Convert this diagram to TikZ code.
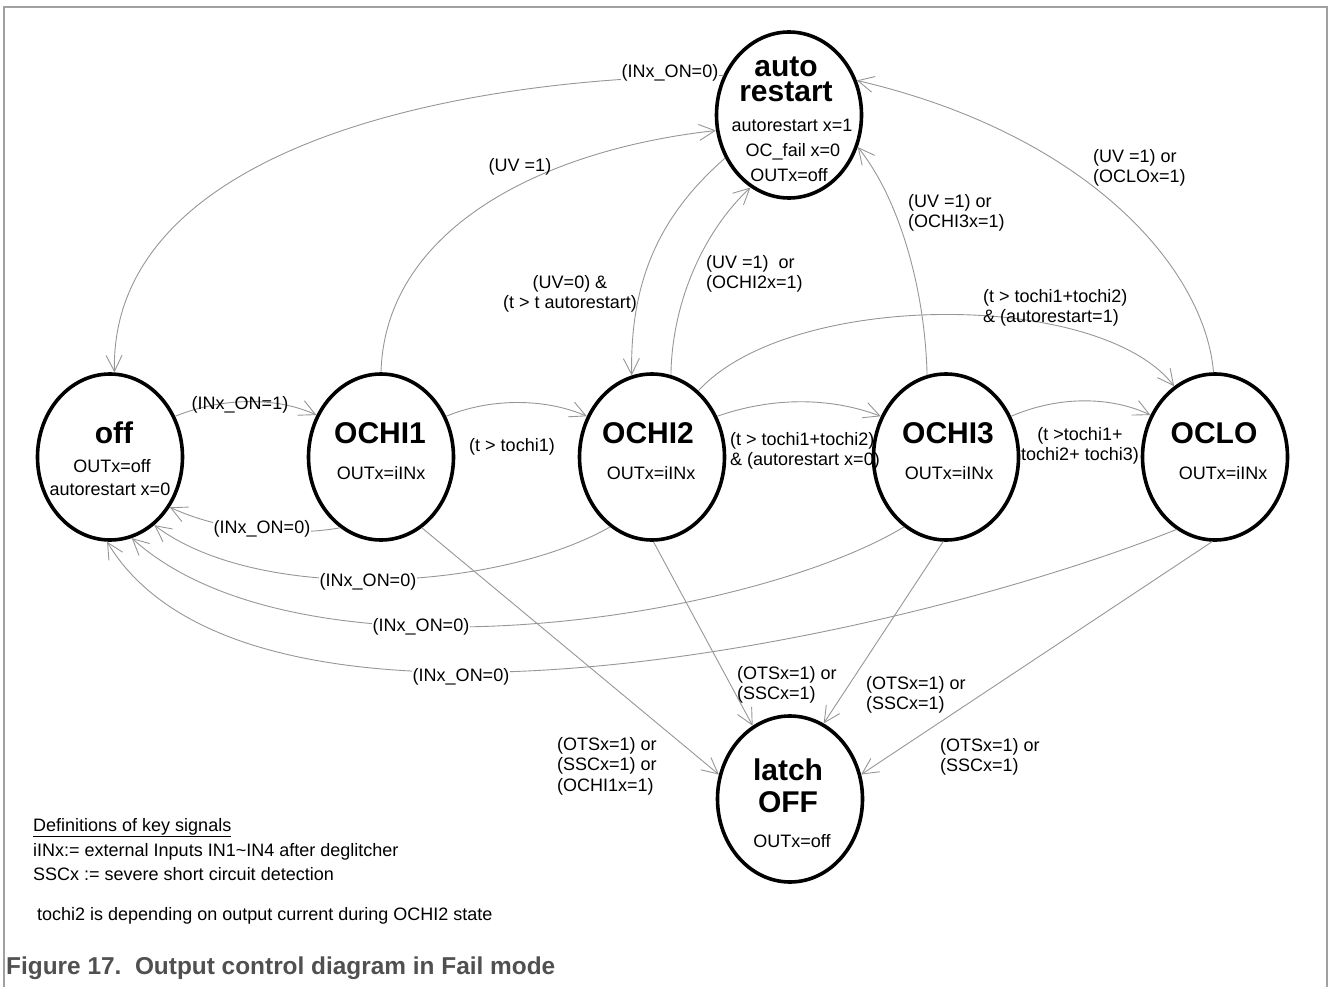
\documentclass[tikz,border=0pt]{standalone}
\usepackage{fontspec}
\setmainfont{Liberation Sans}
\usetikzlibrary{shapes.geometric,arrows.meta}
\definecolor{connc}{RGB}{150,150,150}
\definecolor{framec}{RGB}{160,160,160}
\definecolor{capc}{RGB}{80,80,80}
\begin{document}
\begin{tikzpicture}[x=1pt,y=-1pt,
  state/.style={ellipse,draw=black,line width=3.6pt,minimum width=145pt,minimum height=166pt,inner sep=0pt},
  ttl/.style={font=\fontsize{30}{30}\selectfont\bfseries,inner sep=0pt,anchor=base},
  sub/.style={font=\fontsize{18}{20.5}\selectfont,inner sep=0pt,anchor=base},
  lbl/.style={font=\fontsize{18}{20.5}\selectfont,inner sep=0pt,align=left},
  lblc/.style={font=\fontsize{18}{20.5}\selectfont,inner sep=0pt,align=center},
  onl/.style={fill=white,inner sep=0.5pt},
  arr/.style={draw=connc,line width=0.9pt,-{Straight Barb[length=16pt,width=16pt]}}]

\useasboundingbox (0,0) rectangle (1330,987);
\draw[framec,line width=1.5pt] (4,987) -- (4,7) -- (1327,7) -- (1327,987);

% states
\node[state] (auto) at (789,115) {};
\node[state] (off) at (110,457) {};
\node[state] (ochi1) at (381,457) {};
\node[state] (ochi2) at (652,457) {};
\node[state] (ochi3) at (946,457) {};
\node[state] (oclo) at (1215,457) {};
\node[state] (latch) at (790,799) {};

% state texts
\node[inner sep=0pt,align=center,font=\fontsize{30}{25}\selectfont\bfseries] (autoT) at (786,79) {auto\\restart};
\node[sub] (autoS1) at (792,132) {autorestart x=1};
\node[sub] (autoS2) at (793,157) {OC\_fail x=0};
\node[sub] (autoS3) at (789,182) {OUTx=off};
\node[ttl] (offT) at (114,443) {off};
\node[sub] (offS1) at (112,472) {OUTx=off};
\node[sub] (offS2) at (110,495) {autorestart x=0};
\node[ttl] (ochi1T) at (380,443) {OCHI1};
\node[sub] (ochi1S) at (381,479) {OUTx=iINx};
\node[ttl] (ochi2T) at (648,443) {OCHI2};
\node[sub] (ochi2S) at (651,479) {OUTx=iINx};
\node[ttl] (ochi3T) at (948,443) {OCHI3};
\node[sub] (ochi3S) at (949,479) {OUTx=iINx};
\node[ttl] (ocloT) at (1214,443) {OCLO};
\node[sub] (ocloS) at (1223,479) {OUTx=iINx};
\node[inner sep=0pt,align=center,font=\fontsize{30}{32}\selectfont\bfseries] (latchT) at (788,786) {latch\\OFF};
\node[sub] (latchS) at (792,847) {OUTx=off};

% connectors
\draw[arr] (auto.149) .. controls (420,78) and (110,160) .. (off.87);
\draw[arr] (ochi1.90) .. controls (385,230) and (540,150) .. (auto.192);
\draw[arr] (auto.214) .. controls (660,215) and (630,280) .. (ochi2.104);
\draw[arr] (ochi2.77) .. controls (672,300) and (705,230) .. (auto.242);
\draw[arr] (ochi3.103) .. controls (925,290) and (900,200) .. (auto.335);
\draw[arr] (oclo.91) .. controls (1205,270) and (1090,135) .. (auto.27);
\draw[arr] (off.32) .. controls (220,398) and (275,396) .. (ochi1.147);
\draw[arr] (ochi1.32) .. controls (490,398) and (545,398) .. (ochi2.148);
\draw[arr] (ochi2.32) .. controls (772,397) and (830,397) .. (ochi3.148);
\draw[arr] (ochi3.32) .. controls (1058,396) and (1110,396) .. (oclo.147);
\draw[arr] (ochi2.55) .. controls (790,290) and (1100,290) .. (oclo.120);
\draw[arr] (ochi1.240) .. controls (300,535) and (230,535) .. (off.320);
\draw[arr] (ochi2.239) .. controls (500,590) and (260,605) .. (off.303);
\draw[arr] (ochi3.239) .. controls (750,620) and (300,690) .. (off.285);
\draw[arr] (oclo.242) .. controls (900,640) and (250,780) .. (off.268);
\draw[arr] (ochi1.-60) -- (latch.161);
\draw[arr] (ochi2.271) -- (latch.117);
\draw[arr] (ochi3.268) -- (latch.66);
\draw[arr] (oclo.268) -- (latch.19);

% labels
\node[lbl,onl,anchor=base] (l1) at (670,78) {(INx\_ON=0)};
\node[lbl,anchor=base] (l2) at (520,172) {(UV =1)};
\node[lblc,anchor=north] (l3) at (570,275) {(UV=0) \&\\(t > t autorestart)};
\node[lbl,anchor=north west] (l4) at (706,255) {(UV =1)\ \ or\\(OCHI2x=1)};
\node[lbl,anchor=north west] (l5) at (908,194) {(UV =1) or\\(OCHI3x=1)};
\node[lbl,anchor=north west] (l6) at (1093,149) {(UV =1) or\\(OCLOx=1)};
\node[lbl,anchor=north west] (l7) at (983,289) {(t > tochi1+tochi2)\\\& (autorestart=1)};
\node[lbl,anchor=base] (l8) at (240,409) {(INx\_ON=1)};
\node[lbl,anchor=base] (l9) at (512,451) {(t > tochi1)};
\node[lbl,anchor=north west] (l10) at (730,432) {(t > tochi1+tochi2)\\\& (autorestart x=0)};
\node[lblc,anchor=north] (l11) at (1080,427) {(t >tochi1+\\tochi2+ tochi3)};
\node[lbl,onl,anchor=base] (l12) at (262,533) {(INx\_ON=0)};
\node[lbl,onl,anchor=base] (l13) at (368,586) {(INx\_ON=0)};
\node[lbl,onl,anchor=base] (l14) at (421,631) {(INx\_ON=0)};
\node[lbl,onl,anchor=base] (l15) at (461,681) {(INx\_ON=0)};
\node[lbl,anchor=north west] (l16) at (737,666) {(OTSx=1) or\\(SSCx=1)};
\node[lbl,anchor=north west] (l17) at (866,676) {(OTSx=1) or\\(SSCx=1)};
\node[lbl,anchor=north west] (l18) at (940,738) {(OTSx=1) or\\(SSCx=1)};
\node[lbl,anchor=north west] (l19) at (557,737) {(OTSx=1) or\\(SSCx=1) or\\(OCHI1x=1)};

% notes and caption
\node[sub,anchor=base west] (def1) at (33,831) {\underline{Definitions of key signals}};
\node[sub,anchor=base west] (def2) at (33,856) {iINx:= external Inputs IN1\textasciitilde IN4 after deglitcher};
\node[sub,anchor=base west] (def3) at (33,880) {SSCx := severe short circuit detection};
\node[sub,anchor=base west] (note) at (37,920) {tochi2 is depending on output current during OCHI2 state};
\node[anchor=base west,inner sep=0pt,font=\fontsize{24.4}{26}\selectfont\bfseries,text=capc] (cap) at (6,974) {Figure 17.\ \ Output control diagram in Fail mode};
\end{tikzpicture}
\end{document}
